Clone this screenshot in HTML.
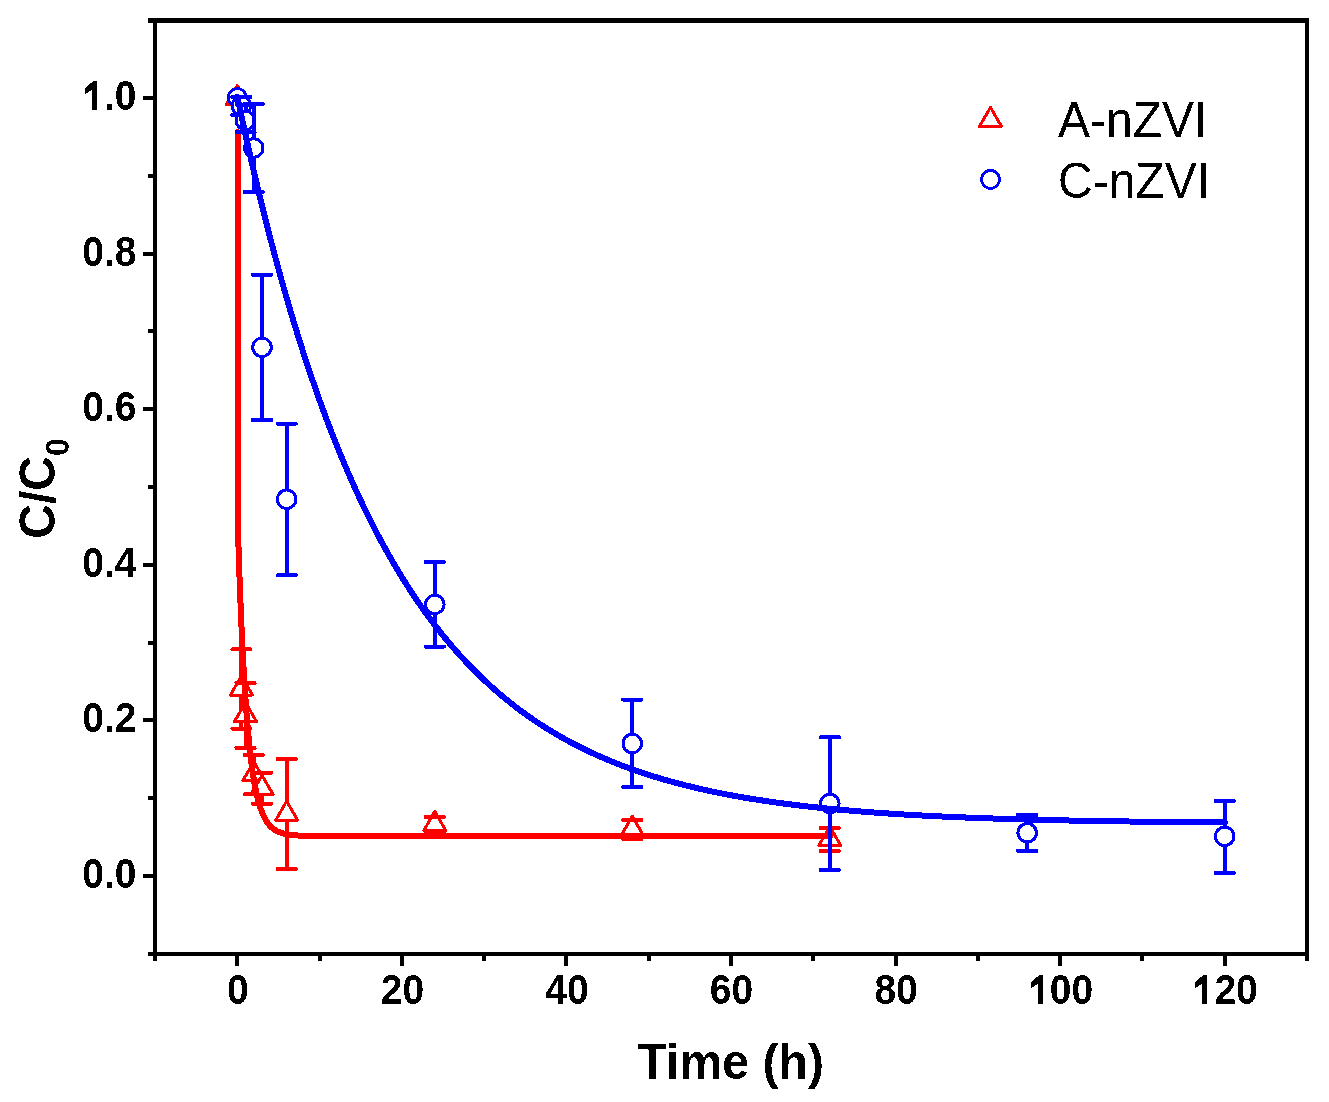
<!DOCTYPE html>
<html><head><meta charset="utf-8"><title>C/C0 vs Time</title>
<style>html,body{margin:0;padding:0;background:#fff;}svg{display:block;}</style></head>
<body><svg width="1329" height="1102" viewBox="0 0 1329 1102"><defs><filter id="bin" filterUnits="userSpaceOnUse" x="0" y="0" width="1329" height="1102" color-interpolation-filters="sRGB"><feComponentTransfer><feFuncA type="discrete" tableValues="0 1"/></feComponentTransfer></filter></defs><g filter="url(#bin)" shape-rendering="crispEdges"><rect x="153" y="18" width="4" height="938" fill="#000"/>
<rect x="1305" y="18" width="4" height="943" fill="#000"/>
<rect x="148" y="18" width="1161" height="5" fill="#000"/>
<rect x="148" y="952" width="1161" height="4" fill="#000"/>
<rect x="153" y="956" width="4" height="5" fill="#000"/>
<rect x="143" y="874.0" width="10" height="4" fill="#000"/>
<rect x="148" y="796.2" width="5" height="4" fill="#000"/>
<rect x="143" y="718.4" width="10" height="4" fill="#000"/>
<rect x="148" y="640.6" width="5" height="4" fill="#000"/>
<rect x="143" y="562.8" width="10" height="4" fill="#000"/>
<rect x="148" y="485.0" width="5" height="4" fill="#000"/>
<rect x="143" y="407.2" width="10" height="4" fill="#000"/>
<rect x="148" y="329.4" width="5" height="4" fill="#000"/>
<rect x="143" y="251.6" width="10" height="4" fill="#000"/>
<rect x="148" y="173.8" width="5" height="4" fill="#000"/>
<rect x="143" y="96.0" width="10" height="4" fill="#000"/>
<rect x="235.3" y="956" width="4" height="10" fill="#000"/>
<rect x="317.6" y="956" width="4" height="5" fill="#000"/>
<rect x="399.9" y="956" width="4" height="10" fill="#000"/>
<rect x="482.2" y="956" width="4" height="5" fill="#000"/>
<rect x="564.4" y="956" width="4" height="10" fill="#000"/>
<rect x="646.7" y="956" width="4" height="5" fill="#000"/>
<rect x="729.0" y="956" width="4" height="10" fill="#000"/>
<rect x="811.3" y="956" width="4" height="5" fill="#000"/>
<rect x="893.6" y="956" width="4" height="10" fill="#000"/>
<rect x="975.9" y="956" width="4" height="5" fill="#000"/>
<rect x="1058.2" y="956" width="4" height="10" fill="#000"/>
<rect x="1140.4" y="956" width="4" height="5" fill="#000"/>
<rect x="1222.7" y="956" width="4" height="10" fill="#000"/>
<text transform="translate(237.8,1004) scale(0.975,1.04)" text-anchor="middle" font-family="Liberation Sans" font-weight="bold" font-size="40">0</text>
<text transform="translate(402.4,1004) scale(0.975,1.04)" text-anchor="middle" font-family="Liberation Sans" font-weight="bold" font-size="40">20</text>
<text transform="translate(566.9,1004) scale(0.975,1.04)" text-anchor="middle" font-family="Liberation Sans" font-weight="bold" font-size="40">40</text>
<text transform="translate(731.5,1004) scale(0.975,1.04)" text-anchor="middle" font-family="Liberation Sans" font-weight="bold" font-size="40">60</text>
<text transform="translate(896.1,1004) scale(0.975,1.04)" text-anchor="middle" font-family="Liberation Sans" font-weight="bold" font-size="40">80</text>
<text transform="translate(1093.2,1004) scale(0.975,1.04)" text-anchor="end" font-family="Liberation Sans" font-weight="bold" font-size="40">00</text>
<path d="M1039.4,975 L1043,975 L1043,1004 L1038,1004 L1038,984 L1031,988 L1031,982 Z" fill="#000"/>
<text transform="translate(1257.8,1004) scale(0.975,1.04)" text-anchor="end" font-family="Liberation Sans" font-weight="bold" font-size="40">20</text>
<path d="M1203.4,975 L1207,975 L1207,1004 L1202,1004 L1202,984 L1195,988 L1195,982 Z" fill="#000"/>
<text transform="translate(136.5,888.0) scale(0.975,1.04)" text-anchor="end" font-family="Liberation Sans" font-weight="bold" font-size="40">0.0</text>
<text transform="translate(136.5,732.4) scale(0.975,1.04)" text-anchor="end" font-family="Liberation Sans" font-weight="bold" font-size="40">0.2</text>
<text transform="translate(136.5,576.8) scale(0.975,1.04)" text-anchor="end" font-family="Liberation Sans" font-weight="bold" font-size="40">0.4</text>
<text transform="translate(136.5,421.2) scale(0.975,1.04)" text-anchor="end" font-family="Liberation Sans" font-weight="bold" font-size="40">0.6</text>
<text transform="translate(136.5,265.6) scale(0.975,1.04)" text-anchor="end" font-family="Liberation Sans" font-weight="bold" font-size="40">0.8</text>
<text transform="translate(136.5,110.0) scale(0.975,1.04)" text-anchor="end" font-family="Liberation Sans" font-weight="bold" font-size="40">.0</text>
<path d="M93.4,81 L97,81 L97,110 L92,110 L92,90 L85,94 L85,88 Z" fill="#000"/>
<text transform="translate(730.8,1079) scale(1.005,1.035)" text-anchor="middle" font-family="Liberation Sans" font-weight="bold" font-size="48">Time (h)</text>
<g transform="translate(54.5,488.5) rotate(-90) scale(1,1.04)"><text x="0" y="0" text-anchor="middle" font-family="Liberation Sans" font-weight="bold" font-size="48">C/C<tspan font-size="32" dy="14">0</tspan></text></g>
<path d="M237.3,85.4 L248.3,104.4 L226.3,104.4 Z" fill="#fff" stroke="#ff0000" stroke-width="3" stroke-linejoin="round"/>
<path d="M241.4,676.0 L252.4,695.0 L230.4,695.0 Z" fill="#fff" stroke="#ff0000" stroke-width="3" stroke-linejoin="round"/>
<line x1="241.4" y1="649.4" x2="241.4" y2="676.0" stroke="#ff0000" stroke-width="4"/><line x1="241.4" y1="695.0" x2="241.4" y2="728.6" stroke="#ff0000" stroke-width="4"/><rect x="230.4" y="647.4" width="22" height="4" rx="1.5" fill="#ff0000"/><rect x="230.4" y="726.6" width="22" height="4" rx="1.5" fill="#ff0000"/>
<path d="M245.5,702.5 L256.5,721.5 L234.5,721.5 Z" fill="#fff" stroke="#ff0000" stroke-width="3" stroke-linejoin="round"/>
<line x1="245.5" y1="683.0" x2="245.5" y2="702.5" stroke="#ff0000" stroke-width="4"/><line x1="245.5" y1="721.5" x2="245.5" y2="748.0" stroke="#ff0000" stroke-width="4"/><rect x="234.5" y="681.0" width="22" height="4" rx="1.5" fill="#ff0000"/><rect x="234.5" y="746.0" width="22" height="4" rx="1.5" fill="#ff0000"/>
<path d="M253.8,761.7 L264.8,780.7 L242.8,780.7 Z" fill="#fff" stroke="#ff0000" stroke-width="3" stroke-linejoin="round"/>
<line x1="253.8" y1="755.0" x2="253.8" y2="761.7" stroke="#ff0000" stroke-width="4"/><line x1="253.8" y1="780.7" x2="253.8" y2="794.4" stroke="#ff0000" stroke-width="4"/><rect x="242.8" y="753.0" width="22" height="4" rx="1.5" fill="#ff0000"/><rect x="242.8" y="792.4" width="22" height="4" rx="1.5" fill="#ff0000"/>
<path d="M262.0,775.3 L273.0,794.3 L251.0,794.3 Z" fill="#fff" stroke="#ff0000" stroke-width="3" stroke-linejoin="round"/>
<line x1="262.0" y1="772.7" x2="262.0" y2="775.3" stroke="#ff0000" stroke-width="4"/><line x1="262.0" y1="794.3" x2="262.0" y2="803.8" stroke="#ff0000" stroke-width="4"/><rect x="251.0" y="770.7" width="22" height="4" rx="1.5" fill="#ff0000"/><rect x="251.0" y="801.8" width="22" height="4" rx="1.5" fill="#ff0000"/>
<path d="M286.7,801.2 L297.7,820.2 L275.7,820.2 Z" fill="#fff" stroke="#ff0000" stroke-width="3" stroke-linejoin="round"/>
<line x1="286.7" y1="759.2" x2="286.7" y2="801.2" stroke="#ff0000" stroke-width="4"/><line x1="286.7" y1="820.2" x2="286.7" y2="869.1" stroke="#ff0000" stroke-width="4"/><rect x="275.7" y="757.2" width="22" height="4" rx="1.5" fill="#ff0000"/><rect x="275.7" y="867.1" width="22" height="4" rx="1.5" fill="#ff0000"/>
<path d="M434.8,811.5 L445.8,830.5 L423.8,830.5 Z" fill="#fff" stroke="#ff0000" stroke-width="3" stroke-linejoin="round"/>
<line x1="434.8" y1="830.5" x2="434.8" y2="832.0" stroke="#ff0000" stroke-width="4"/><rect x="423.8" y="815.0" width="22" height="4" rx="1.5" fill="#ff0000"/><rect x="423.8" y="830.0" width="22" height="4" rx="1.5" fill="#ff0000"/>
<path d="M632.3,816.3 L643.3,835.3 L621.3,835.3 Z" fill="#fff" stroke="#ff0000" stroke-width="3" stroke-linejoin="round"/>
<line x1="632.3" y1="835.3" x2="632.3" y2="838.8" stroke="#ff0000" stroke-width="4"/><rect x="621.3" y="817.9" width="22" height="4" rx="1.5" fill="#ff0000"/><rect x="621.3" y="836.8" width="22" height="4" rx="1.5" fill="#ff0000"/>
<path d="M829.8,826.5 L840.8,845.5 L818.8,845.5 Z" fill="#fff" stroke="#ff0000" stroke-width="3" stroke-linejoin="round"/>
<line x1="829.8" y1="845.5" x2="829.8" y2="851.0" stroke="#ff0000" stroke-width="4"/><rect x="818.8" y="826.0" width="22" height="4" rx="1.5" fill="#ff0000"/><rect x="818.8" y="849.0" width="22" height="4" rx="1.5" fill="#ff0000"/>
<path d="M237.70,132.23 L237.72,187.92 L237.74,235.85 L237.76,277.13 L237.78,312.69 L237.80,343.33 L237.82,369.74 L237.85,392.53 L237.87,412.20 L237.89,429.20 L237.91,443.89 L237.93,456.61 L237.95,467.63 L237.97,477.19 L237.99,485.50 L238.01,492.72 L238.03,499.03 L238.05,504.54 L238.07,509.36 L238.10,513.60 L238.12,517.33 L238.14,520.63 L238.16,523.55 L238.18,526.16 L238.20,528.49 L238.22,530.58 L238.24,532.47 L238.26,534.18 L238.28,535.74 L238.30,537.17 L238.32,538.50 L238.35,539.72 L238.37,540.86 L238.39,541.93 L238.41,542.94 L238.43,543.90 L238.45,544.81 L238.47,545.68 L238.49,546.52 L238.51,547.33 L238.53,548.11 L238.55,548.87 L238.57,549.61 L238.60,550.33 L238.62,551.04 L238.64,551.74 L238.66,552.43 L238.68,553.10 L238.70,553.77 L238.72,554.43 L238.74,555.08 L238.76,555.73 L238.78,556.37 L238.80,557.01 L238.82,557.64 L238.85,558.27 L238.87,558.90 L238.89,559.52 L238.91,560.14 L238.93,560.76 L238.95,561.37 L238.97,561.98 L238.99,562.59 L239.01,563.20 L239.03,563.81 L239.05,564.41 L239.07,565.02 L239.10,565.62 L239.12,566.21 L239.14,566.81 L239.16,567.41 L239.18,568.00 L239.20,568.60 L239.22,569.19 L239.24,569.78 L239.26,570.36 L239.28,570.95 L239.30,571.54 L239.32,572.12 L239.35,572.70 L239.35,572.70 L239.62,580.13 L239.89,587.35 L240.15,594.37 L240.42,601.18 L240.69,607.81 L240.96,614.24 L241.23,620.50 L241.50,626.58 L241.77,632.49 L242.04,638.23 L242.31,643.81 L242.58,649.23 L242.85,654.50 L243.12,659.62 L243.39,664.59 L243.66,669.43 L243.93,674.13 L244.20,678.69 L244.47,683.13 L244.74,687.44 L245.01,691.63 L245.28,695.71 L245.55,699.66 L245.82,703.51 L246.09,707.25 L246.36,710.88 L246.63,714.41 L246.90,717.84 L247.17,721.17 L247.44,724.41 L247.71,727.56 L247.98,730.62 L248.25,733.59 L248.52,736.48 L248.79,739.29 L249.05,742.02 L249.32,744.67 L249.59,747.25 L249.86,749.75 L250.13,752.18 L250.40,754.55 L250.67,756.84 L250.94,759.08 L251.21,761.25 L251.48,763.36 L251.75,765.41 L252.02,767.40 L252.29,769.33 L252.56,771.21 L252.83,773.04 L253.10,774.82 L253.37,776.54 L253.64,778.22 L253.91,779.85 L254.18,781.44 L254.45,782.98 L254.72,784.47 L254.99,785.93 L255.26,787.34 L255.53,788.71 L255.80,790.05 L256.07,791.34 L256.34,792.60 L256.61,793.83 L256.88,795.02 L257.15,796.17 L257.42,797.30 L257.69,798.39 L257.96,799.45 L258.22,800.48 L258.49,801.48 L258.76,802.46 L259.03,803.40 L259.30,804.32 L259.57,805.22 L259.84,806.09 L260.11,806.93 L260.38,807.75 L260.65,808.55 L260.92,809.32 L261.19,810.08 L261.46,810.81 L261.73,811.52 L262.00,812.21 L262.27,812.88 L262.54,813.53 L262.81,814.17 L263.08,814.78 L263.35,815.38 L263.62,815.96 L263.89,816.53 L264.16,817.08 L264.43,817.61 L264.70,818.13 L264.97,818.64 L265.24,819.13 L265.51,819.60 L265.78,820.06 L266.05,820.51 L266.32,820.95 L266.59,821.38 L266.86,821.79 L267.12,822.19 L267.39,822.58 L267.66,822.96 L267.93,823.33 L268.20,823.69 L268.47,824.03 L268.74,824.37 L269.01,824.70 L269.28,825.02 L269.55,825.33 L269.82,825.63 L270.09,825.92 L270.36,826.21 L270.63,826.48 L270.90,826.75 L271.17,827.01 L271.44,827.27 L271.71,827.51 L271.98,827.75 L272.25,827.99 L272.52,828.21 L272.79,828.43 L273.06,828.65 L273.33,828.85 L273.60,829.06 L273.87,829.25 L274.14,829.44 L274.41,829.63 L274.68,829.81 L274.95,829.98 L275.22,830.15 L275.49,830.32 L275.76,830.48 L276.02,830.64 L276.29,830.79 L276.56,830.93 L276.83,831.08 L277.10,831.22 L277.37,831.35 L277.64,831.48 L277.91,831.61 L278.18,831.73 L278.45,831.86 L278.72,831.97 L278.99,832.09 L279.26,832.20 L279.53,832.30 L279.80,832.41 L280.07,832.51 L280.34,832.61 L280.61,832.71 L280.88,832.80 L281.15,832.89 L281.42,832.98 L281.69,833.06 L281.96,833.15 L282.23,833.23 L282.50,833.31 L282.77,833.38 L283.04,833.46 L283.31,833.53 L283.58,833.60 L283.85,833.67 L284.12,833.73 L284.39,833.80 L284.66,833.86 L284.93,833.92 L285.19,833.98 L285.46,834.04 L285.73,834.09 L286.00,834.15 L286.27,834.20 L286.54,834.25 L286.81,834.30 L287.08,834.35 L287.35,834.39 L287.62,834.44 L287.89,834.48 L288.16,834.53 L288.43,834.57 L288.70,834.61 L288.97,834.65 L289.24,834.69 L289.51,834.73 L289.78,834.76 L290.05,834.80 L290.32,834.83 L290.59,834.86 L290.86,834.90 L291.13,834.93 L291.40,834.96 L291.67,834.99 L291.94,835.02 L292.21,835.05 L292.48,835.07 L292.75,835.10 L293.02,835.12 L293.29,835.15 L293.56,835.17 L293.83,835.20 L294.09,835.22 L294.36,835.24 L294.63,835.26 L294.90,835.29 L295.17,835.31 L295.44,835.33 L295.71,835.35 L295.98,835.36 L296.25,835.38 L296.52,835.40 L296.79,835.42 L297.06,835.43 L297.33,835.45 L297.60,835.47 L297.87,835.48 L298.14,835.50 L298.41,835.51 L298.68,835.52 L298.95,835.54 L299.22,835.55 L299.49,835.56 L299.76,835.58 L300.03,835.59 L300.30,835.60 L300.57,835.61 L300.84,835.62 L301.11,835.64 L301.38,835.65 L301.65,835.66 L301.92,835.67 L302.19,835.68 L302.46,835.69 L302.73,835.69 L302.99,835.70 L303.26,835.71 L303.53,835.72 L303.80,835.73 L304.07,835.74 L304.34,835.74 L304.61,835.75 L304.88,835.76 L305.15,835.77 L305.42,835.77 L305.69,835.78 L305.96,835.79 L306.23,835.79 L306.50,835.80 L306.77,835.80 L307.04,835.81 L307.31,835.82 L307.58,835.82 L307.85,835.83 L308.12,835.83 L308.39,835.84 L308.66,835.84 L308.93,835.85 L309.20,835.85 L309.47,835.86 L309.74,835.86 L310.01,835.86 L310.28,835.87 L310.55,835.87 L310.82,835.88 L311.09,835.88 L311.36,835.88 L311.63,835.89 L311.90,835.89 L312.16,835.89 L312.43,835.90 L312.70,835.90 L312.97,835.90 L313.24,835.91 L313.51,835.91 L313.78,835.91 L314.05,835.92 L314.32,835.92 L314.59,835.92 L314.86,835.92 L315.13,835.93 L315.40,835.93 L315.67,835.93 L315.94,835.93 L316.21,835.94 L316.48,835.94 L316.75,835.94 L317.02,835.94 L317.29,835.94 L317.56,835.95 L317.83,835.95 L318.10,835.95 L318.37,835.95 L318.64,835.95 L318.91,835.95 L319.18,835.96 L319.45,835.96 L319.72,835.96 L319.99,835.96 L319.99,835.96 L346.84,836.01 L373.69,836.01 L400.54,836.01 L427.39,836.01 L454.24,836.01 L481.09,836.01 L507.94,836.01 L534.80,836.01 L561.65,836.01 L588.50,836.01 L615.35,836.01 L642.20,836.01 L669.05,836.01 L695.90,836.01 L722.75,836.01 L749.61,836.01 L776.46,836.01 L803.31,836.01 L830.16,836.01" fill="none" stroke="#ff0000" stroke-width="6" stroke-linejoin="round" stroke-linecap="round"/>
<circle cx="237.3" cy="97.5" r="9" fill="#fff" stroke="#0000ff" stroke-width="3"/>
<circle cx="241.4" cy="105.9" r="9.25" fill="#fff" stroke="#0000ff" stroke-width="3"/>
<rect x="230.4" y="94.8" width="22" height="4" rx="1.5" fill="#0000ff"/><rect x="230.4" y="113.0" width="22" height="4" rx="1.5" fill="#0000ff"/>
<circle cx="245.5" cy="120.5" r="9.25" fill="#fff" stroke="#0000ff" stroke-width="3"/>
<line x1="245.5" y1="104.5" x2="245.5" y2="111.2" stroke="#0000ff" stroke-width="4"/><line x1="245.5" y1="129.8" x2="245.5" y2="132.2" stroke="#0000ff" stroke-width="4"/><rect x="234.5" y="102.5" width="22" height="4" rx="1.5" fill="#0000ff"/><rect x="234.5" y="130.2" width="22" height="4" rx="1.5" fill="#0000ff"/>
<circle cx="253.8" cy="148.0" r="9.25" fill="#fff" stroke="#0000ff" stroke-width="3"/>
<line x1="253.8" y1="104.0" x2="253.8" y2="138.8" stroke="#0000ff" stroke-width="4"/><line x1="253.8" y1="157.2" x2="253.8" y2="192.0" stroke="#0000ff" stroke-width="4"/><rect x="242.8" y="102.0" width="22" height="4" rx="1.5" fill="#0000ff"/><rect x="242.8" y="190.0" width="22" height="4" rx="1.5" fill="#0000ff"/>
<circle cx="262.0" cy="347.3" r="9.25" fill="#fff" stroke="#0000ff" stroke-width="3"/>
<line x1="262.0" y1="274.8" x2="262.0" y2="338.1" stroke="#0000ff" stroke-width="4"/><line x1="262.0" y1="356.6" x2="262.0" y2="420.0" stroke="#0000ff" stroke-width="4"/><rect x="251.0" y="272.8" width="22" height="4" rx="1.5" fill="#0000ff"/><rect x="251.0" y="418.0" width="22" height="4" rx="1.5" fill="#0000ff"/>
<circle cx="286.7" cy="499.2" r="9.25" fill="#fff" stroke="#0000ff" stroke-width="3"/>
<line x1="286.7" y1="423.6" x2="286.7" y2="489.9" stroke="#0000ff" stroke-width="4"/><line x1="286.7" y1="508.4" x2="286.7" y2="575.4" stroke="#0000ff" stroke-width="4"/><rect x="275.7" y="421.6" width="22" height="4" rx="1.5" fill="#0000ff"/><rect x="275.7" y="573.4" width="22" height="4" rx="1.5" fill="#0000ff"/>
<circle cx="434.8" cy="604.4" r="9.25" fill="#fff" stroke="#0000ff" stroke-width="3"/>
<line x1="434.8" y1="562.0" x2="434.8" y2="595.1" stroke="#0000ff" stroke-width="4"/><line x1="434.8" y1="613.6" x2="434.8" y2="646.5" stroke="#0000ff" stroke-width="4"/><rect x="423.8" y="560.0" width="22" height="4" rx="1.5" fill="#0000ff"/><rect x="423.8" y="644.5" width="22" height="4" rx="1.5" fill="#0000ff"/>
<circle cx="632.3" cy="743.5" r="9.25" fill="#fff" stroke="#0000ff" stroke-width="3"/>
<line x1="632.3" y1="699.5" x2="632.3" y2="734.2" stroke="#0000ff" stroke-width="4"/><line x1="632.3" y1="752.8" x2="632.3" y2="787.0" stroke="#0000ff" stroke-width="4"/><rect x="621.3" y="697.5" width="22" height="4" rx="1.5" fill="#0000ff"/><rect x="621.3" y="785.0" width="22" height="4" rx="1.5" fill="#0000ff"/>
<circle cx="829.8" cy="803.5" r="9.25" fill="#fff" stroke="#0000ff" stroke-width="3"/>
<line x1="829.8" y1="737.4" x2="829.8" y2="794.2" stroke="#0000ff" stroke-width="4"/><line x1="829.8" y1="812.8" x2="829.8" y2="870.0" stroke="#0000ff" stroke-width="4"/><rect x="818.8" y="735.4" width="22" height="4" rx="1.5" fill="#0000ff"/><rect x="818.8" y="868.0" width="22" height="4" rx="1.5" fill="#0000ff"/>
<circle cx="1027.2" cy="832.8" r="9.25" fill="#fff" stroke="#0000ff" stroke-width="3"/>
<line x1="1027.2" y1="814.8" x2="1027.2" y2="823.5" stroke="#0000ff" stroke-width="4"/><line x1="1027.2" y1="842.0" x2="1027.2" y2="850.8" stroke="#0000ff" stroke-width="4"/><rect x="1016.2" y="812.8" width="22" height="4" rx="1.5" fill="#0000ff"/><rect x="1016.2" y="848.8" width="22" height="4" rx="1.5" fill="#0000ff"/>
<circle cx="1224.7" cy="836.3" r="9.25" fill="#fff" stroke="#0000ff" stroke-width="3"/>
<line x1="1224.7" y1="801.2" x2="1224.7" y2="827.0" stroke="#0000ff" stroke-width="4"/><line x1="1224.7" y1="845.5" x2="1224.7" y2="873.0" stroke="#0000ff" stroke-width="4"/><rect x="1213.7" y="799.2" width="22" height="4" rx="1.5" fill="#0000ff"/><rect x="1213.7" y="871.0" width="22" height="4" rx="1.5" fill="#0000ff"/>
<path d="M237.30,96.59 L239.77,108.29 L242.24,119.80 L244.71,131.13 L247.17,142.27 L249.64,153.23 L252.11,164.02 L254.58,174.63 L257.05,185.07 L259.52,195.35 L261.99,205.46 L264.45,215.40 L266.92,225.19 L269.39,234.82 L271.86,244.29 L274.33,253.62 L276.80,262.79 L279.27,271.81 L281.73,280.69 L284.20,289.43 L286.67,298.02 L289.14,306.48 L291.61,314.80 L294.08,322.99 L296.55,331.04 L299.01,338.97 L301.48,346.77 L303.95,354.44 L306.42,361.99 L308.89,369.42 L311.36,376.72 L313.83,383.91 L316.29,390.99 L318.76,397.95 L321.23,404.80 L323.70,411.54 L326.17,418.17 L328.64,424.69 L331.11,431.11 L333.57,437.43 L336.04,443.64 L338.51,449.75 L340.98,455.77 L343.45,461.69 L345.92,467.51 L348.39,473.24 L350.85,478.88 L353.32,484.43 L355.79,489.88 L358.26,495.25 L360.73,500.54 L363.20,505.73 L365.67,510.85 L368.13,515.88 L370.60,520.83 L373.07,525.70 L375.54,530.50 L378.01,535.21 L380.48,539.85 L382.95,544.42 L385.41,548.91 L387.88,553.33 L390.35,557.68 L392.82,561.96 L395.29,566.17 L397.76,570.31 L400.23,574.39 L402.69,578.40 L405.16,582.34 L407.63,586.22 L410.10,590.04 L412.57,593.80 L415.04,597.50 L417.51,601.14 L419.97,604.72 L422.44,608.24 L424.91,611.70 L427.38,615.11 L429.85,618.47 L432.32,621.77 L434.79,625.02 L437.25,628.21 L439.72,631.35 L442.19,634.45 L444.66,637.49 L447.13,640.49 L449.60,643.43 L452.07,646.33 L454.54,649.18 L457.00,651.99 L459.47,654.75 L461.94,657.47 L464.41,660.14 L466.88,662.77 L469.35,665.36 L471.82,667.90 L474.28,670.41 L476.75,672.87 L479.22,675.30 L481.69,677.68 L484.16,680.03 L486.63,682.34 L489.10,684.61 L491.56,686.85 L494.03,689.05 L496.50,691.22 L498.97,693.35 L501.44,695.44 L503.91,697.50 L506.38,699.53 L508.84,701.53 L511.31,703.49 L513.78,705.42 L516.25,707.33 L518.72,709.20 L521.19,711.04 L523.66,712.85 L526.12,714.63 L528.59,716.38 L531.06,718.11 L533.53,719.81 L536.00,721.48 L538.47,723.12 L540.94,724.73 L543.40,726.33 L545.87,727.89 L548.34,729.43 L550.81,730.94 L553.28,732.44 L555.75,733.90 L558.22,735.35 L560.68,736.77 L563.15,738.16 L565.62,739.54 L568.09,740.89 L570.56,742.22 L573.03,743.53 L575.50,744.82 L577.96,746.08 L580.43,747.33 L582.90,748.56 L585.37,749.77 L587.84,750.95 L590.31,752.12 L592.78,753.27 L595.24,754.40 L597.71,755.52 L600.18,756.61 L602.65,757.69 L605.12,758.75 L607.59,759.79 L610.06,760.82 L612.52,761.83 L614.99,762.82 L617.46,763.80 L619.93,764.76 L622.40,765.71 L624.87,766.64 L627.34,767.56 L629.80,768.46 L632.27,769.34 L634.74,770.22 L637.21,771.08 L639.68,771.92 L642.15,772.75 L644.62,773.57 L647.08,774.37 L649.55,775.17 L652.02,775.95 L654.49,776.71 L656.96,777.47 L659.43,778.21 L661.90,778.94 L664.36,779.66 L666.83,780.36 L669.30,781.06 L671.77,781.74 L674.24,782.42 L676.71,783.08 L679.18,783.73 L681.64,784.37 L684.11,785.00 L686.58,785.62 L689.05,786.23 L691.52,786.83 L693.99,787.43 L696.46,788.01 L698.92,788.58 L701.39,789.14 L703.86,789.70 L706.33,790.24 L708.80,790.78 L711.27,791.31 L713.74,791.83 L716.20,792.34 L718.67,792.84 L721.14,793.33 L723.61,793.82 L726.08,794.30 L728.55,794.77 L731.02,795.23 L733.48,795.69 L735.95,796.14 L738.42,796.58 L740.89,797.02 L743.36,797.44 L745.83,797.86 L748.30,798.28 L750.76,798.68 L753.23,799.08 L755.70,799.48 L758.17,799.87 L760.64,800.25 L763.11,800.62 L765.58,800.99 L768.04,801.36 L770.51,801.71 L772.98,802.07 L775.45,802.41 L777.92,802.75 L780.39,803.09 L782.86,803.42 L785.32,803.74 L787.79,804.06 L790.26,804.38 L792.73,804.68 L795.20,804.99 L797.67,805.29 L800.14,805.58 L802.60,805.87 L805.07,806.16 L807.54,806.44 L810.01,806.71 L812.48,806.98 L814.95,807.25 L817.42,807.51 L819.88,807.77 L822.35,808.03 L824.82,808.28 L827.29,808.52 L829.76,808.77 L832.23,809.00 L834.70,809.24 L837.16,809.47 L839.63,809.70 L842.10,809.92 L844.57,810.14 L847.04,810.36 L849.51,810.57 L851.98,810.78 L854.44,810.98 L856.91,811.19 L859.38,811.39 L861.85,811.58 L864.32,811.77 L866.79,811.96 L869.26,812.15 L871.73,812.34 L874.19,812.52 L876.66,812.69 L879.13,812.87 L881.60,813.04 L884.07,813.21 L886.54,813.38 L889.01,813.54 L891.47,813.70 L893.94,813.86 L896.41,814.02 L898.88,814.17 L901.35,814.32 L903.82,814.47 L906.29,814.62 L908.75,814.76 L911.22,814.91 L913.69,815.05 L916.16,815.18 L918.63,815.32 L921.10,815.45 L923.57,815.58 L926.03,815.71 L928.50,815.84 L930.97,815.96 L933.44,816.08 L935.91,816.20 L938.38,816.32 L940.85,816.44 L943.31,816.55 L945.78,816.67 L948.25,816.78 L950.72,816.89 L953.19,817.00 L955.66,817.10 L958.13,817.21 L960.59,817.31 L963.06,817.41 L965.53,817.51 L968.00,817.61 L970.47,817.70 L972.94,817.80 L975.41,817.89 L977.87,817.98 L980.34,818.07 L982.81,818.16 L985.28,818.25 L987.75,818.33 L990.22,818.42 L992.69,818.50 L995.15,818.58 L997.62,818.66 L1000.09,818.74 L1002.56,818.82 L1005.03,818.90 L1007.50,818.97 L1009.97,819.05 L1012.43,819.12 L1014.90,819.19 L1017.37,819.26 L1019.84,819.33 L1022.31,819.40 L1024.78,819.47 L1027.25,819.53 L1029.71,819.60 L1032.18,819.66 L1034.65,819.72 L1037.12,819.79 L1039.59,819.85 L1042.06,819.91 L1044.53,819.97 L1046.99,820.02 L1049.46,820.08 L1051.93,820.14 L1054.40,820.19 L1056.87,820.25 L1059.34,820.30 L1061.81,820.35 L1064.27,820.41 L1066.74,820.46 L1069.21,820.51 L1071.68,820.56 L1074.15,820.61 L1076.62,820.65 L1079.09,820.70 L1081.55,820.75 L1084.02,820.79 L1086.49,820.84 L1088.96,820.88 L1091.43,820.92 L1093.90,820.97 L1096.37,821.01 L1098.83,821.05 L1101.30,821.09 L1103.77,821.13 L1106.24,821.17 L1108.71,821.21 L1111.18,821.25 L1113.65,821.29 L1116.11,821.32 L1118.58,821.36 L1121.05,821.39 L1123.52,821.43 L1125.99,821.46 L1128.46,821.50 L1130.93,821.53 L1133.39,821.56 L1135.86,821.60 L1138.33,821.63 L1140.80,821.66 L1143.27,821.69 L1145.74,821.72 L1148.21,821.75 L1150.67,821.78 L1153.14,821.81 L1155.61,821.84 L1158.08,821.87 L1160.55,821.89 L1163.02,821.92 L1165.49,821.95 L1167.95,821.97 L1170.42,822.00 L1172.89,822.02 L1175.36,822.05 L1177.83,822.07 L1180.30,822.10 L1182.77,822.12 L1185.23,822.15 L1187.70,822.17 L1190.17,822.19 L1192.64,822.21 L1195.11,822.24 L1197.58,822.26 L1200.05,822.28 L1202.51,822.30 L1204.98,822.32 L1207.45,822.34 L1209.92,822.36 L1212.39,822.38 L1214.86,822.40 L1217.33,822.42 L1219.79,822.44 L1222.26,822.46 L1224.73,822.47" fill="none" stroke="#0000ff" stroke-width="6" stroke-linejoin="round" stroke-linecap="round"/>
<path d="M990.5,107.4 L1001.5,126.4 L979.5,126.4 Z" fill="#fff" stroke="#ff0000" stroke-width="3" stroke-linejoin="round"/>
<circle cx="990.5" cy="179.4" r="9" fill="#fff" stroke="#0000ff" stroke-width="3"/>
<text transform="translate(1058,137) scale(1,1.06)" font-family="Liberation Sans" font-size="48">A-nZVI</text>
<text transform="translate(1058,197.5) scale(1,1.06)" font-family="Liberation Sans" font-size="48">C-nZVI</text></g></svg></body></html>
